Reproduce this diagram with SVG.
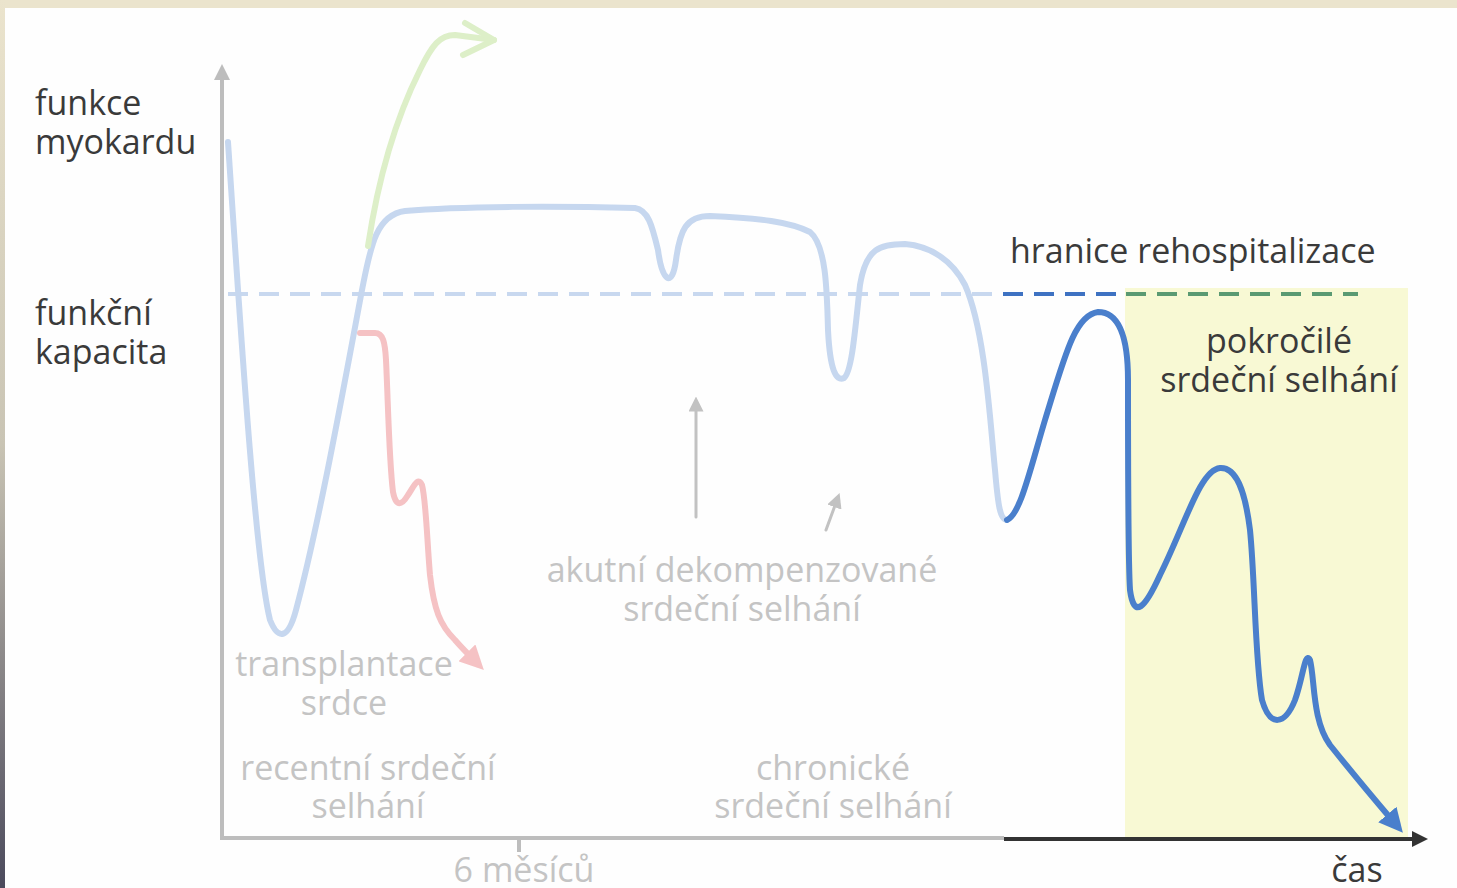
<svg xmlns="http://www.w3.org/2000/svg" width="1457" height="888" viewBox="0 0 1457 888">
<defs>
<linearGradient id="lg" x1="0" y1="0" x2="0" y2="1">
<stop offset="0" stop-color="#ebe4cd"/>
<stop offset="0.5" stop-color="#c9c4b4"/>
<stop offset="1" stop-color="#4b4a5c"/>
</linearGradient>
<marker id="ag" viewBox="0 0 10 10" refX="5" refY="5" markerWidth="4" markerHeight="4" orient="auto-start-reverse"><path d="M0,0 L10,5 L0,10 Z" fill="#bdbdbd"/></marker>
<marker id="ad" viewBox="0 0 10 10" refX="5" refY="5" markerWidth="4" markerHeight="4" orient="auto"><path d="M0,0 L10,5 L0,10 Z" fill="#333"/></marker>
<marker id="ab" viewBox="0 0 10 10" refX="3" refY="5" markerWidth="4" markerHeight="4" orient="auto"><path d="M0,0 L10,5 L0,10 Z" fill="#4a7fcc"/></marker>
<marker id="ar" viewBox="0 0 10 10" refX="3" refY="5" markerWidth="4" markerHeight="4" orient="auto"><path d="M0,0 L10,5 L0,10 Z" fill="#f5c2c4"/></marker>
<marker id="ag2" viewBox="0 0 10 10" refX="5" refY="5" markerWidth="5" markerHeight="5" orient="auto"><path d="M0,0 L10,5 L0,10 Z" fill="#c2c2c2"/></marker>
<style>
.t{font-family:"Open Sans","Liberation Sans",sans-serif;font-size:34px}
.dk{fill:#3a3a3a}
.lt{fill:#c4c4c4}
.mid{text-anchor:middle}
</style>
</defs>
<rect width="1457" height="888" fill="#fefefe"/>
<rect x="0" y="0" width="1457" height="8" fill="#ebe4cd"/>
<rect x="0" y="0" width="5" height="888" fill="url(#lg)"/>
<g id="zone"><rect x="1125" y="288" width="283" height="550" fill="#f8f9d4"/></g>
<g id="axes">
<line x1="222" y1="838" x2="222" y2="72" stroke="#bdbdbd" stroke-width="4" marker-end="url(#ag)"/>
<line x1="220" y1="838" x2="1004" y2="838" stroke="#bdbdbd" stroke-width="4"/>
<line x1="1004" y1="839" x2="1420" y2="839" stroke="#333" stroke-width="4" marker-end="url(#ad)"/>
<line x1="519" y1="838" x2="519" y2="852" stroke="#bdbdbd" stroke-width="4"/>
</g>
<g id="thresholds" fill="none" stroke-width="4" stroke-dasharray="20 11">
<line x1="228" y1="294" x2="1003" y2="294" stroke="#c8d8ef"/>
<line x1="1003" y1="294" x2="1122" y2="294" stroke="#3e72c2"/>
<line x1="1126" y1="294" x2="1358" y2="294" stroke="#5a9a72"/>
</g>
<g id="connectors" fill="none" stroke-linecap="round" stroke-linejoin="round">
<path id="lightcurve" d="M228,142 C240,320 255,560 270,620 C278,640 288,640 296,610 C320,520 345,380 362,290 C370,250 375,215 405,211 C460,206 560,206 635,208 C648,210 652,225 658,250 C662,280 672,290 676,260 C680,230 686,216 710,216 C760,218 790,222 810,232 C826,245 827,290 828,330 C830,370 836,382 844,378 C852,372 855,330 860,285 C866,248 880,244 905,244 C930,246 952,260 965,285 C985,330 990,420 995,470 C998,505 1000,520 1007,520" stroke="#c6d7ef" stroke-width="6"/>
<path id="darkcurve" d="M1007,520 C1020,515 1030,470 1045,420 C1065,355 1075,315 1098,312 C1120,312 1128,340 1128,380 C1128,450 1128,560 1130,590 C1134,620 1145,608 1160,575 C1185,525 1200,470 1220,468 C1236,467 1245,490 1250,530 C1255,580 1255,660 1262,700 C1270,728 1285,725 1295,700 C1303,678 1305,650 1310,660 C1315,680 1312,720 1330,745 C1350,770 1375,800 1392,820" stroke="#4a7fcc" stroke-width="6" marker-end="url(#ab)"/>
<path id="redcurve" d="M360,333 L375,333 C383,333 385,342 386,360 C388,400 389,460 393,492 C396,508 402,505 408,495 C414,486 418,476 422,485 C426,500 427,540 430,575 C434,610 440,625 455,640 C462,648 468,654 472,658" stroke="#f5c2c4" stroke-width="6" marker-end="url(#ar)"/>
<path id="greencurve" d="M368,246 C378,180 395,120 420,70 C432,45 440,35 455,35 L494,40" stroke="#ddefc8" stroke-width="6"/>
<polyline points="465,23 494,40 463,55" fill="none" stroke="#ddefc8" stroke-width="6"/>
<line x1="696" y1="517" x2="696" y2="404" stroke="#c2c2c2" stroke-width="3" marker-end="url(#ag2)"/>
<line x1="826" y1="530" x2="837" y2="500" stroke="#c2c2c2" stroke-width="3" marker-end="url(#ag2)"/>
</g>
<g id="labels">
<text class="t dk" x="35" y="115">funkce</text>
<text class="t dk" x="35" y="154">myokardu</text>
<text class="t dk" x="35" y="325">funkční</text>
<text class="t dk" x="35" y="364">kapacita</text>
<text class="t dk" x="1010" y="263">hranice rehospitalizace</text>
<text class="t dk mid" x="1279" y="353">pokročilé</text>
<text class="t dk mid" x="1279" y="392">srdeční selhání</text>
<text class="t lt mid" x="344" y="676">transplantace</text>
<text class="t lt mid" x="344" y="715">srdce</text>
<text class="t lt mid" x="742" y="582">akutní dekompenzované</text>
<text class="t lt mid" x="742" y="621">srdeční selhání</text>
<text class="t lt mid" x="368" y="780">recentní srdeční</text>
<text class="t lt mid" x="368" y="818">selhání</text>
<text class="t lt mid" x="833" y="780">chronické</text>
<text class="t lt mid" x="833" y="818">srdeční selhání</text>
<text class="t lt mid" x="524" y="882">6 měsíců</text>
<text class="t dk mid" x="1357" y="882">čas</text>
</g>
</svg>
